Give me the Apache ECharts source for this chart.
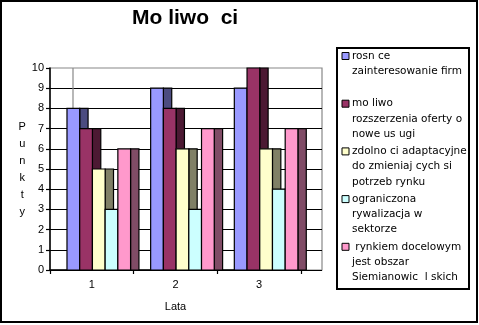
<!DOCTYPE html>
<html>
<head>
<meta charset="utf-8">
<script src="https://cdn.jsdelivr.net/npm/echarts@6/dist/echarts.min.js"></script>
<style>html,body{margin:0;padding:0;background:#fff}#c{width:479px;height:325px}</style>
</head>
<body>
<div id="c"></div>
<script>
// ---- data ----
const titleText = 'Mo liwo  ci';
const yAxisName = 'Punkty';
const xAxisName = 'Lata';
const categories = ['1', '2', '3'];
const seriesNames = [
  'rosn ce\nzainteresowanie firm',
  'mo liwo\nrozszerzenia oferty o\nnowe us ugi',
  'zdolno ci adaptacyjne\ndo zmieniaj cych si\npotrzeb rynku',
  'ograniczona\nrywalizacja w\nsektorze',
  ' rynkiem docelowym\njest obszar\nSiemianowic  l skich'
];
const s1 = [8, 9, 9];
const s2 = [7, 8, 10];
const s3 = [5, 6, 6];
const s4 = [3, 3, 4];
const s5 = [6, 7, 7];
const seriesValues = [s1, s2, s3, s4, s5];
const yTicks = [0, 10, 1]; // min, max, interval

// ---- styles ----
const frontColors = ['#9999FF', '#993366', '#FFFFCC', '#CCFFFF', '#FF99CC'];
const sideColors = ['#4C4C80', '#4C1933', '#808066', '#668080', '#804C66'];
const FONT = 'Liberation Sans, Arial, sans-serif';

const chart = echarts.init(document.getElementById('c'), null, {renderer: 'canvas'});

function makeRender(si) {
  return function (params, api) {
    const cat = api.value(0), v = api.value(1);
    const top = api.coord([cat, v]);
    const base = api.coord([cat, 0]);
    const band = api.size([1, 0])[0];
    const w = band * 0.152, d = band * 0.10;
    const x0 = top[0] - band / 2 + band * 0.203 + si * w;
    const h = base[1] - top[1];
    return {
      type: 'group',
      children: [
        {type: 'rect', shape: {x: x0 + w, y: top[1], width: d, height: h},
         style: {fill: sideColors[si], stroke: '#000', lineWidth: 1.2}},
        {type: 'rect', shape: {x: x0, y: top[1], width: w, height: h},
         style: {fill: frontColors[si], stroke: '#000', lineWidth: 1.2}}
      ]
    };
  };
}

const series = seriesValues.map((vals, si) => ({
  type: 'custom',
  name: seriesNames[si],
  xAxisIndex: 1,
  yAxisIndex: 1,
  renderItem: makeRender(si),
  encode: {x: 0, y: 1},
  data: vals.map((v, i) => [i, v]),
  z: 2
}));

// legend built from series names
const legendTop = 56, legendStep = 47.7, lineH = 15.3;
const legendChildren = [
  {type: 'rect', shape: {x: 337, y: 48, width: 132, height: 241},
   style: {fill: '#fff', stroke: '#000', lineWidth: 2}}
];
seriesNames.forEach((n, i) => {
  const cy = legendTop + i * legendStep;
  legendChildren.push({type: 'rect', shape: {x: 342, y: cy - 3.5, width: 7, height: 7},
    style: {fill: frontColors[i], stroke: '#000', lineWidth: 1}});
  legendChildren.push({type: 'text', x: 352, y: cy - lineH / 2,
    style: {text: n, fill: '#000', font: '10.5px "DejaVu Sans", sans-serif',
      lineHeight: lineH, verticalAlign: 'top', align: 'left'}});
});

const option = {
  animation: false,
  backgroundColor: '#fff',
  title: {
    text: titleText, left: 127, top: 3,
    textStyle: {fontFamily: FONT, fontSize: 21, fontWeight: 'bold', color: '#000'}
  },
  grid: [
    {left: 50, top: 68, right: 157, bottom: 55, show: true, borderColor: '#888', borderWidth: 1.2, backgroundColor: 'transparent'},
    {left: 50, top: 68, right: 178, bottom: 55}
  ],
  xAxis: [
    {type: 'category', gridIndex: 0, data: categories, show: false},
    {type: 'category', gridIndex: 1, data: categories,
     axisLine: {lineStyle: {color: '#000', width: 1.5}},
     axisTick: {show: true, length: 4, lineStyle: {color: '#000', width: 1.2}},
     axisLabel: {color: '#000', fontFamily: FONT, fontSize: 11, margin: 9},
     name: xAxisName, nameLocation: 'middle', nameGap: 31,
     nameTextStyle: {color: '#000', fontFamily: FONT, fontSize: 11}}
  ],
  yAxis: [
    {type: 'value', gridIndex: 0, min: yTicks[0], max: yTicks[1], interval: yTicks[2],
     axisLine: {show: true, lineStyle: {color: '#000', width: 1.5}},
     axisTick: {show: true, length: 4, lineStyle: {color: '#000', width: 1.2}},
     axisLabel: {color: '#000', fontFamily: FONT, fontSize: 11, margin: 6},
     splitLine: {show: true, showMaxLine: false, lineStyle: {color: '#000', width: 1.2}},
     name: yAxisName.split('').join('\n'), nameLocation: 'middle', nameGap: 27, nameRotate: 0,
     nameTextStyle: {color: '#000', fontFamily: FONT, fontSize: 11, lineHeight: 17, align: 'center', verticalAlign: 'middle', padding: [0, 0, 8, 0]}},
    {type: 'value', gridIndex: 1, min: yTicks[0], max: yTicks[1], interval: yTicks[2], show: false}
  ],
  graphic: [
    {type: 'line', shape: {x1: 73, y1: 68, x2: 73, y2: 270}, style: {stroke: '#888', lineWidth: 1.2}, z: 1},
    {type: 'group', children: legendChildren, z: 5},
    {type: 'rect', shape: {x: 1, y: 1, width: 476, height: 321}, style: {fill: 'none', stroke: '#000', lineWidth: 2}, z: 10}
  ],
  series: series
};
chart.setOption(option);
</script>
</body>
</html>
